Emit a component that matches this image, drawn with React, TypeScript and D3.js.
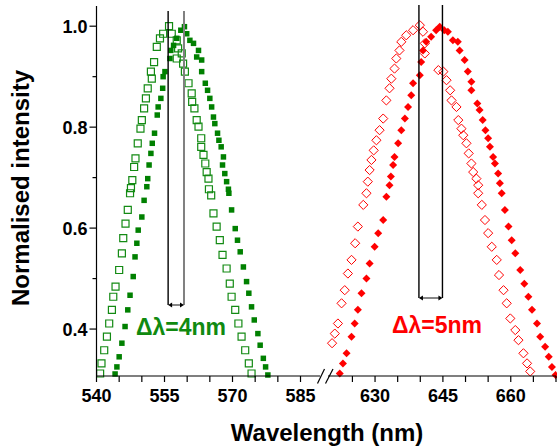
import React from 'react';
import * as d3 from 'd3';

// [wavelength nm, normalised intensity]
const greenOpen: [number, number][] = [
  [540.8, 0.312], [541.1, 0.332], [541.7, 0.358], [542.3, 0.385], [542.8, 0.411],
  [543.4, 0.438], [543.7, 0.464], [544.2, 0.484], [545.0, 0.517], [545.6, 0.55],
  [545.9, 0.58], [546.4, 0.609], [546.9, 0.636], [547.4, 0.669], [547.6, 0.679],
  [547.9, 0.695], [548.3, 0.721], [548.6, 0.738], [549.1, 0.768], [549.7, 0.797],
  [550.0, 0.814], [550.5, 0.837], [550.9, 0.857], [551.3, 0.877], [552.2, 0.896],
  [552.0, 0.91], [552.7, 0.929], [553.3, 0.959], [554.0, 0.976], [554.7, 0.985],
  [556.0, 1.0], [556.6, 0.985], [557.7, 0.972], [558.0, 0.956], [558.8, 0.946],
  [557.7, 0.936], [559.1, 0.926], [559.5, 0.91], [560.3, 0.887], [561.0, 0.867],
  [561.1, 0.85], [561.6, 0.837], [562.1, 0.814], [562.5, 0.801], [563.1, 0.778],
  [563.1, 0.761], [563.6, 0.745], [564.0, 0.728], [564.3, 0.711], [564.7, 0.698],
  [564.8, 0.677], [565.3, 0.665], [565.8, 0.629], [566.5, 0.603], [567.2, 0.576],
  [567.8, 0.547], [568.7, 0.52], [569.4, 0.49], [569.8, 0.464], [570.6, 0.438],
  [571.3, 0.411], [572.0, 0.385], [572.8, 0.358], [573.6, 0.332], [574.2, 0.312],
];

const greenFilled: [number, number][] = [
  [544.1, 0.311], [544.5, 0.325], [545.0, 0.345], [545.6, 0.372], [546.3, 0.405],
  [546.9, 0.438], [547.4, 0.467], [548.1, 0.504], [548.5, 0.543], [548.9, 0.57],
  [549.2, 0.596], [550.0, 0.622], [550.5, 0.655], [551.1, 0.682], [551.3, 0.698],
  [551.6, 0.725], [552.0, 0.748], [552.3, 0.768], [552.8, 0.788], [553.4, 0.824],
  [553.6, 0.84], [554.2, 0.857], [554.6, 0.877], [554.7, 0.9], [555.1, 0.91],
  [556.2, 0.936], [556.4, 0.952], [557.0, 0.962], [557.7, 0.976], [558.6, 0.992],
  [559.4, 0.999], [559.9, 0.985], [560.6, 0.972], [561.4, 0.966], [562.5, 0.952],
  [562.1, 0.939], [563.2, 0.933], [563.2, 0.91], [564.0, 0.887], [564.5, 0.873],
  [565.0, 0.857], [565.4, 0.84], [565.8, 0.82], [566.1, 0.807], [566.7, 0.788],
  [567.0, 0.774], [567.5, 0.761], [568.0, 0.741], [567.8, 0.725], [568.3, 0.708],
  [568.7, 0.692], [569.1, 0.677], [569.2, 0.669], [569.8, 0.636], [570.6, 0.599],
  [571.1, 0.576], [571.7, 0.553], [572.4, 0.523], [573.1, 0.494], [573.6, 0.471],
  [574.2, 0.444], [574.8, 0.418], [575.6, 0.391], [576.1, 0.368], [576.8, 0.342],
  [577.3, 0.325], [577.8, 0.309],
];

const redOpen: [number, number][] = [
  [620.5, 0.372], [621.1, 0.391], [621.8, 0.411], [622.6, 0.451], [623.3, 0.477],
  [624.0, 0.51], [624.8, 0.537], [625.6, 0.57], [626.2, 0.603], [627.4, 0.646],
  [628.1, 0.669], [628.4, 0.692], [628.8, 0.715], [629.2, 0.735], [629.7, 0.754],
  [630.3, 0.774], [631.0, 0.794], [631.8, 0.817], [632.5, 0.853], [633.2, 0.877],
  [633.6, 0.896], [634.3, 0.916], [634.7, 0.936], [635.4, 0.952], [635.8, 0.969],
  [636.9, 0.982], [638.4, 0.992], [639.9, 1.002], [640.6, 0.989], [641.0, 0.966],
  [641.0, 0.946], [644.0, 0.913], [645.1, 0.91], [645.8, 0.893], [646.6, 0.873],
  [646.9, 0.853], [648.0, 0.84], [648.4, 0.814], [649.1, 0.797], [649.5, 0.784],
  [650.2, 0.768], [650.7, 0.748], [651.3, 0.728], [651.7, 0.711], [652.4, 0.698],
  [652.8, 0.685], [652.8, 0.669], [653.6, 0.646], [654.3, 0.616], [655.0, 0.59],
  [655.8, 0.563], [656.9, 0.537], [657.4, 0.507], [658.4, 0.477], [659.1, 0.451],
  [659.9, 0.421], [661.0, 0.398], [661.7, 0.378], [662.8, 0.352], [663.6, 0.332],
  [664.3, 0.316],
];

const redFilled: [number, number][] = [
  [622.2, 0.312], [622.9, 0.332], [623.7, 0.352], [624.8, 0.385], [625.5, 0.411],
  [626.2, 0.438], [627.0, 0.471], [628.1, 0.5], [628.8, 0.53], [629.9, 0.563],
  [630.7, 0.59], [631.8, 0.616], [632.5, 0.662], [633.2, 0.685], [633.5, 0.702],
  [634.0, 0.725], [634.3, 0.741], [635.1, 0.768], [635.8, 0.794], [636.6, 0.817],
  [637.3, 0.84], [638.0, 0.863], [638.4, 0.887], [639.9, 0.903], [640.2, 0.929],
  [640.6, 0.952], [641.3, 0.969], [642.4, 0.979], [643.5, 0.992], [644.3, 0.999],
  [645.3, 0.992], [646.1, 0.989], [647.2, 0.972], [648.3, 0.969], [648.7, 0.952],
  [649.8, 0.933], [650.5, 0.91], [651.3, 0.89], [651.3, 0.873], [652.6, 0.847],
  [653.1, 0.834], [653.8, 0.814], [654.4, 0.794], [655.0, 0.778], [655.4, 0.761],
  [656.1, 0.741], [656.5, 0.728], [657.2, 0.708], [657.6, 0.689], [658.0, 0.669],
  [658.7, 0.636], [659.5, 0.603], [660.2, 0.576], [661.0, 0.55], [662.1, 0.517],
  [663.0, 0.49], [663.9, 0.464], [664.7, 0.438], [665.8, 0.411], [666.5, 0.385],
  [667.6, 0.365], [668.4, 0.345], [669.1, 0.325], [669.9, 0.309],
];

// peak markers (nm)
const greenPeaks = [555.8, 559.3];
const redPeaks = [639.7, 644.9];

const xTicksLeft = [540, 545, 550, 555, 560, 565, 570, 575, 580, 585];
const xTicksRight = [625, 630, 635, 640, 645, 650, 655, 660, 665, 670];
const xLabels = [540, 555, 570, 585, 630, 645, 660];
const yTicks = [0.4, 0.5, 0.6, 0.7, 0.8, 0.9, 1.0];
const yLabels = [0.4, 0.6, 0.8, 1.0];

const W = 557;
const H = 447;
const font = 'Arial, "Liberation Sans", sans-serif';

export default function App() {
  const xl = d3.scaleLinear().domain([540, 589.3]).range([96.5, 320]);
  const xr = d3.scaleLinear().domain([619.6, 670]).range([328, 556]);
  const x = (v: number) => (v < 600 ? xl(v) : xr(v));
  const y = d3.scaleLinear().domain([0.307, 1.04]).range([376, 6]);
  const y0 = y.range()[0];
  const left = xl.range()[0];

  const sq = (s: number) => d3.symbol(d3.symbolSquare, s * s)()!;
  const openSq = sq(7);
  const fillSq = sq(5.5);
  const diamond = (s: number) => `M0,${-s}L${s},0L0,${s}L${-s},0Z`;

  const peakLines = (peaks: number[], top: number, bottom: number, colors: string[]) => (
    <g>
      {peaks.map((p, i) => (
        <line key={i} x1={x(p)} x2={x(p)} y1={top} y2={bottom} stroke={colors[i]} strokeWidth={i === 1 && colors[i] !== '#000' ? 2 : 1.4} />
      ))}
      <line x1={x(peaks[0]) + 2} x2={x(peaks[1]) - 2} y1={bottom} y2={bottom} stroke="#444" strokeWidth={1.3} />
      <path d={`M${x(peaks[0])},${bottom}l4,-2.5v5Z`} fill="#000" />
      <path d={`M${x(peaks[1])},${bottom}l-4,-2.5v5Z`} fill="#000" />
    </g>
  );

  return (
    <svg width={W} height={H} style={{ position: 'absolute', left: 0, top: 0, background: '#fff' }} fontFamily={font}>
      {/* series */}
      <g>
        {greenOpen.map((d, i) => (
          <path key={'go' + i} d={openSq} transform={`translate(${x(d[0])},${y(d[1])})`} fill="none" stroke="#138a13" strokeWidth={1.2} />
        ))}
        {greenFilled.map((d, i) => (
          <path key={'gf' + i} d={fillSq} transform={`translate(${x(d[0])},${y(d[1])})`} fill="#008000" />
        ))}
        {redOpen.map((d, i) => (
          <path key={'ro' + i} d={diamond(4.6)} transform={`translate(${x(d[0])},${y(d[1])})`} fill="none" stroke="#ff0000" strokeWidth={1} />
        ))}
        {redFilled.map((d, i) => (
          <path key={'rf' + i} d={diamond(4)} transform={`translate(${x(d[0])},${y(d[1])})`} fill="#ff0000" />
        ))}
      </g>

      {/* peak markers */}
      {peakLines(greenPeaks, 11, 305, ['#000', '#808080'])}
      {peakLines(redPeaks, 5, 298, ['#000', '#000'])}

      <text x={136} y={335} fill="#108a10" fontWeight="bold" fontSize={23}>Δλ=4nm</text>
      <text x={392} y={333} fill="#ff0000" fontWeight="bold" fontSize={23}>Δλ=5nm</text>

      {/* y axis */}
      <line x1={left} x2={left} y1={6} y2={y0} stroke="#000" strokeWidth={1.2} />
      {yTicks.map((t) => {
        const major = yLabels.includes(t);
        return <line key={t} x1={left - (major ? 7 : 4)} x2={left} y1={y(t)} y2={y(t)} stroke="#000" strokeWidth={1.2} />;
      })}
      {yLabels.map((t) => (
        <text key={t} x={left - 9} y={y(t)} dy="0.36em" textAnchor="end" fontWeight="bold" fontSize={18}>
          {d3.format('.1f')(t)}
        </text>
      ))}

      {/* x axis with break */}
      <line x1={left} x2={xl.range()[1]} y1={y0} y2={y0} stroke="#000" strokeWidth={1.2} />
      <line x1={xr.range()[0]} x2={xr.range()[1]} y1={y0} y2={y0} stroke="#000" strokeWidth={1.2} />
      <line x1={317.5} y1={383.5} x2={324.5} y2={369} stroke="#000" strokeWidth={1.2} />
      <line x1={325.5} y1={383.5} x2={333} y2={369} stroke="#000" strokeWidth={1.2} />
      {[...xTicksLeft, ...xTicksRight].map((t) => (
        <line key={t} x1={x(t)} x2={x(t)} y1={y0} y2={y0 + 6} stroke="#000" strokeWidth={1.2} />
      ))}
      {xLabels.map((t) => (
        <text key={t} x={x(t)} y={402} textAnchor="middle" fontWeight="bold" fontSize={18}>
          {t}
        </text>
      ))}

      <text x={327} y={441} textAnchor="middle" fontWeight="bold" fontSize={24}>Wavelength (nm)</text>
      <text transform="translate(29,188) rotate(-90)" textAnchor="middle" fontWeight="bold" fontSize={24}>Normalised intensity</text>
    </svg>
  );
}
